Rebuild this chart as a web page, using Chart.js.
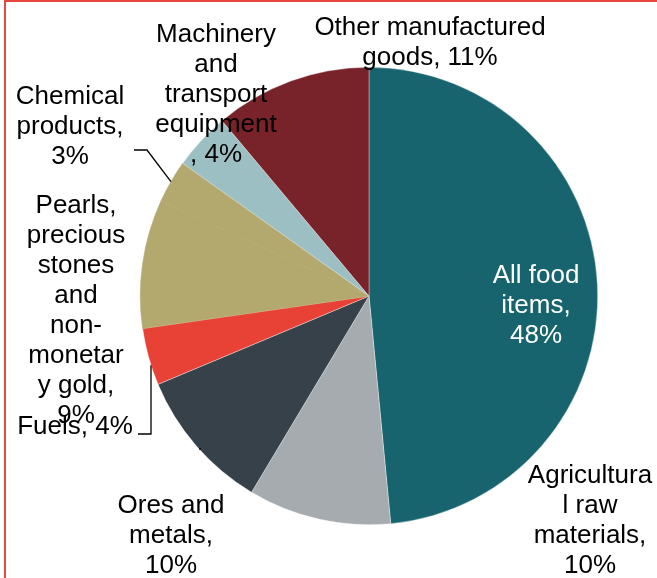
<!DOCTYPE html>
<html>
<head>
<meta charset="utf-8">
<script src="https://cdn.jsdelivr.net/npm/chart.js@4/dist/chart.umd.min.js"></script>
<style>
  html, body { margin: 0; padding: 0; background: #ffffff; }
  #wrap { position: relative; width: 657px; height: 578px; overflow: hidden; }
  #frame { position: absolute; left: 4px; top: 0; width: 700px; height: 700px;
           border-left: 2px solid #e8473f; border-top: 2px solid #e8473f; box-sizing: border-box; }
  canvas { position: absolute; left: 0; top: 0; }
</style>
</head>
<body>
<div id="wrap">
  <div id="frame"></div>
  <canvas id="c" width="657" height="578"></canvas>
</div>
<script>
// Export composition by product group (share of total, %)
const categories = [
  'All food items',
  'Agricultural raw materials',
  'Ores and metals',
  'Fuels',
  'Pearls, precious stones and non-monetary gold',
  'Chemical products',
  'Machinery and transport equipment',
  'Other manufactured goods'
];
const shares = [48, 10, 10, 4, 9, 3, 4, 11];
const sliceColors = ['#18646e', '#a5abae', '#37414a', '#e84236', '#b3a86e', '#b3a86e', '#9bbfc3', '#782229'];
// Thin slice outlines; the two tan slices share one colour so no seam shows between them
const sliceEdges = ['rgba(255,255,255,0.6)', 'rgba(255,255,255,0.6)', 'rgba(255,255,255,0.6)',
  'rgba(255,255,255,0.6)', '#b3a86e', '#b3a86e', 'rgba(255,255,255,0.6)', 'rgba(255,255,255,0.6)'];

// Wrapped label text; {v} is replaced with the slice's share
const labelLines = [
  ['All food', 'items,', '{v}'],
  ['Agricultura', 'l raw', 'materials,', '{v}'],
  ['Ores and', 'metals,', '{v}'],
  ['Fuels, {v}'],
  ['Pearls,', 'precious', 'stones', 'and', 'non-', 'monetar', 'y gold,', '{v}'],
  ['Chemical', 'products,', '{v}'],
  ['Machinery', 'and', 'transport', 'equipment', ', {v}'],
  ['Other manufactured', 'goods, {v}']
];

// Label placement: text centre x, first baseline y, text colour
const labelPlace = [
  { x: 536, y: 283, color: '#ffffff' },
  { x: 590, y: 483, color: '#000000' },
  { x: 171, y: 513, color: '#000000' },
  { x: 75,  y: 434, color: '#000000' },
  { x: 76,  y: 213, color: '#000000' },
  { x: 70,  y: 104, color: '#000000' },
  { x: 216, y: 42,  color: '#000000' },
  { x: 430, y: 35,  color: '#000000' }
];
const lineStep = 30;

// Leader lines: label-side points; the last point is the slice's outer arc midpoint
const leaders = {
  5: [[134, 150], [147, 150]],
  3: [[138, 434], [151, 434], [151, 'arc']],
  2: [[200, 448], [200, 'arc']]
};

const labelPlugin = {
  id: 'pieLabels',
  afterDatasetsDraw(chart) {
    const ctx = chart.ctx;
    const arcs = chart.getDatasetMeta(0).data;
    ctx.save();
    // leader lines
    ctx.strokeStyle = '#000000';
    ctx.lineWidth = 1.3;
    Object.keys(leaders).forEach(k => {
      const i = +k;
      const a = arcs[i];
      const mid = (a.startAngle + a.endAngle) / 2;
      const r = a.outerRadius;
      const pts = leaders[k].map(p => p.slice());
      const last = pts[pts.length - 1];
      if (last[1] === 'arc') {
        // vertical drop onto the arc at the given x
        const dx = last[0] - a.x;
        const dy = Math.sqrt(Math.max(r * r - dx * dx, 0));
        last[1] = a.y + dy * (Math.sin(mid) >= 0 ? 1 : -1);
      } else {
        pts.push([a.x + Math.cos(mid) * r, a.y + Math.sin(mid) * r]);
      }
      ctx.beginPath();
      pts.forEach((p, j) => j ? ctx.lineTo(p[0], p[1]) : ctx.moveTo(p[0], p[1]));
      ctx.stroke();
    });
    // labels
    ctx.font = '26px "Liberation Sans", Arial, sans-serif';
    ctx.textAlign = 'center';
    ctx.textBaseline = 'alphabetic';
    labelLines.forEach((lines, i) => {
      const p = labelPlace[i];
      ctx.fillStyle = p.color;
      lines.forEach((ln, j) => {
        ctx.fillText(ln.replace('{v}', shares[i] + '%'), p.x, p.y + j * lineStep);
      });
    });
    ctx.restore();
  }
};

new Chart(document.getElementById('c'), {
  type: 'pie',
  data: {
    labels: categories,
    datasets: [{
      data: shares,
      backgroundColor: sliceColors,
      borderColor: sliceEdges,
      borderWidth: 0.6
    }]
  },
  options: {
    responsive: false,
    animation: false,
    layout: { padding: { left: 140, right: 59, top: 67, bottom: 53 } },
    plugins: {
      legend: { display: false },
      tooltip: { enabled: false }
    }
  },
  plugins: [labelPlugin]
});
</script>
</body>
</html>
